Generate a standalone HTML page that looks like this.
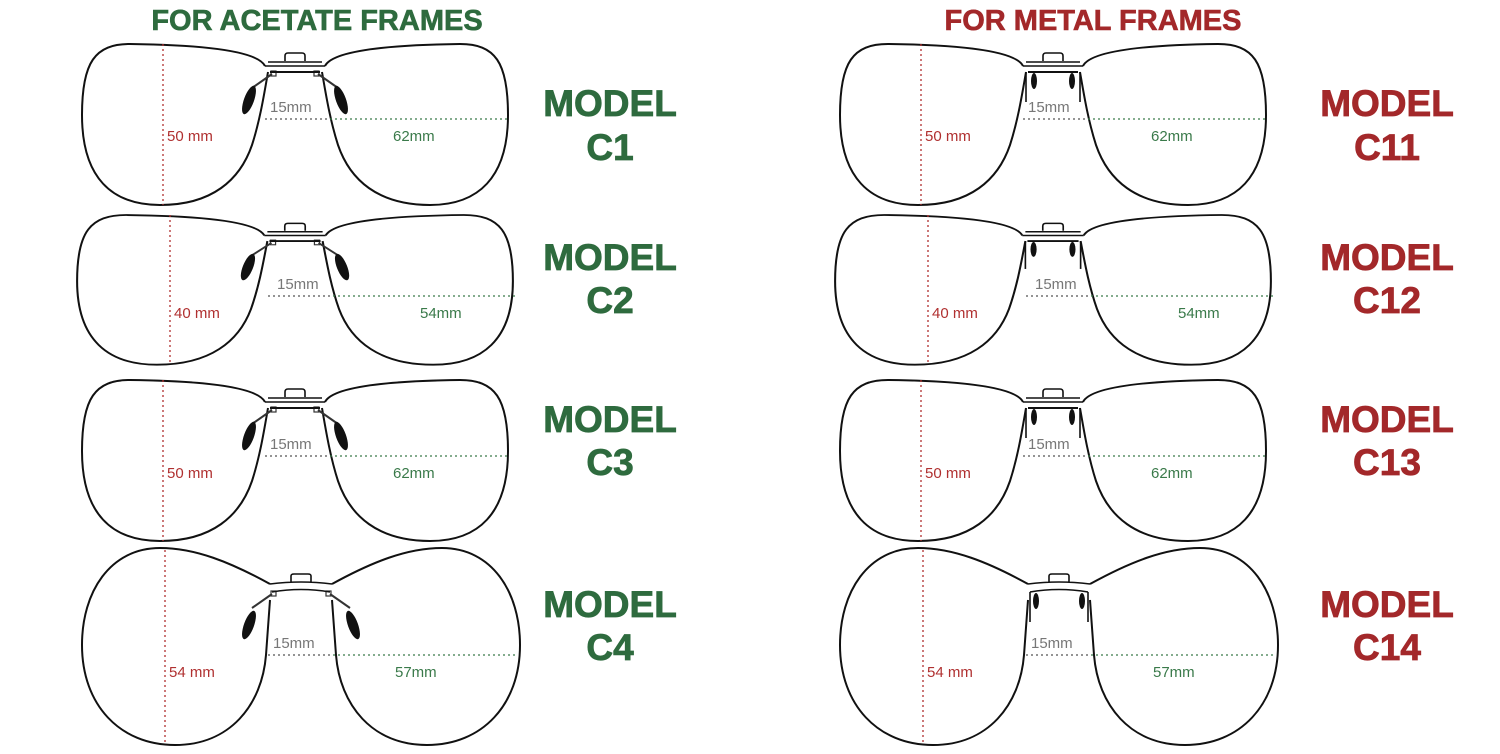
<!DOCTYPE html>
<html><head><meta charset="utf-8"><style>
html,body{margin:0;padding:0;background:#fff;}
svg{display:block;}
text{font-family:"Liberation Sans",sans-serif;}
</style></head><body>
<svg id="s" width="1500" height="754" viewBox="0 0 1500 754" xmlns="http://www.w3.org/2000/svg">
<g font-weight="bold" text-anchor="middle">
<text x="317" y="30" font-size="29" fill="#2e6b3e" stroke="#2e6b3e" stroke-width="0.6">FOR ACETATE FRAMES</text>
<text x="1093" y="30" font-size="29" fill="#a3282a" stroke="#a3282a" stroke-width="0.6">FOR METAL FRAMES</text>
<g font-size="37" fill="#2e6b3e" stroke="#2e6b3e" stroke-width="0.8">
<text x="610" y="116">MODEL</text><text x="610" y="160">C1</text>
<text x="610" y="270">MODEL</text><text x="610" y="313">C2</text>
<text x="610" y="432">MODEL</text><text x="610" y="475">C3</text>
<text x="610" y="617">MODEL</text><text x="610" y="660">C4</text>
</g>
<g font-size="37" fill="#a3282a" stroke="#a3282a" stroke-width="0.8">
<text x="1387" y="116">MODEL</text><text x="1387" y="160">C11</text>
<text x="1387" y="270">MODEL</text><text x="1387" y="313">C12</text>
<text x="1387" y="432">MODEL</text><text x="1387" y="475">C13</text>
<text x="1387" y="617">MODEL</text><text x="1387" y="660">C14</text>
</g>
</g>
<g id="glasses"></g>
</svg>
<script>
var g=document.getElementById('glasses');var h='';
var avL='M265 66 C258 52 210 45 130 44 C95 44 82 62 82 115 C82 178 112 205 160 205 C212 205 240 180 252 145 C260 120 264 95 268 72';
var rdL='M270 584 C230 562 195 548 160 548 C110 548 82 592 82 645 C82 705 120 745 175 745 C230 745 262 705 266 655 L270 600';
function half(path,metal,bar,padY,rd){
 var s='<path d="'+path+'" fill="none" stroke="#111" stroke-width="2"/>';
 if(!metal){
  s+='<line x1="272" y1="'+(bar+2)+'" x2="252" y2="'+(bar+16)+'" stroke="#333" stroke-width="2"/>';
  s+='<rect x="271" y="'+(bar-1)+'" width="5" height="5" fill="none" stroke="#333" stroke-width="1.2"/>';
  s+='<ellipse cx="249" cy="'+(padY)+'" rx="5" ry="15" transform="rotate(20 249 '+padY+')" fill="#111"/>';
 } else {
  s+='<line x1="'+(rd?272:268)+'" y1="'+bar+'" x2="'+(rd?272:268)+'" y2="'+(bar+30)+'" stroke="#111" stroke-width="1.6"/>';
  s+='<ellipse cx="'+(rd?278:276)+'" cy="'+(bar+9)+'" rx="3" ry="8" fill="#111"/>';
 }
 return s;
}
function glasses(dx,dy,sx,sy,round,metal){
 var s='<g transform="translate('+dx+','+dy+') ">';
 var inner;
 if(!round){
  inner='<g transform="translate('+(295*(1-sx))+','+(44*(1-sy))+') scale('+sx+','+sy+')">';
  var hf=half(avL,metal,72,100,false);
  inner+=hf+'<g transform="translate(590,0) scale(-1,1)">'+hf+'</g>';
  inner+='<path d="M265 66 L325 66 M268 62 L322 62 M285 61 L285 56 Q285 53 288 53 L302 53 Q305 53 305 56 L305 61" fill="none" stroke="#111" stroke-width="1.6"/>';
  inner+='<path d="M270 72 L320 72" stroke="#111" stroke-width="2"/>';
  inner+='</g>';
 } else {
  var hf=half(rdL,metal,592,625,true);
  inner=hf+'<g transform="translate(602,0) scale(-1,1)">'+hf+'</g>';
  inner+='<path d="M270 584 Q301 580 332 584 M272 592 Q301 587 330 592 M291 582 L291 576 Q291 574 294 574 L308 574 Q311 574 311 576 L311 582" fill="none" stroke="#111" stroke-width="1.6"/>';
 }
 s+=inner+'</g>';
 return s;
}
function labels(dx,o){
 var s='<g transform="translate('+dx+',0)">';
 s+='<line x1="'+o.rx+'" y1="'+o.ry1+'" x2="'+o.rx+'" y2="'+o.ry2+'" stroke="#b03030" stroke-width="1.3" stroke-dasharray="2,3"/>';
 s+='<line x1="'+o.gx1+'" y1="'+o.ly+'" x2="'+(o.gx1+65)+'" y2="'+o.ly+'" stroke="#555" stroke-width="1.3" stroke-dasharray="2,3"/>';
 s+='<line x1="'+(o.gx1+65)+'" y1="'+o.ly+'" x2="'+o.gx2+'" y2="'+o.ly+'" stroke="#3a7a4a" stroke-width="1.3" stroke-dasharray="2,3"/>';
 s+='<text x="'+o.bx+'" y="'+(o.ly-7)+'" font-size="15" fill="#777">15mm</text>';
 s+='<text x="'+o.wx+'" y="'+(o.ly+22)+'" font-size="15" fill="#3a7a4a">'+o.w+'</text>';
 s+='<text x="'+(o.rx+4)+'" y="'+(o.ly+22)+'" font-size="15" fill="#b03030">'+o.hh+'</text>';
 return s+'</g>';
}
var rows=[
 {dy:0,sx:1,sy:1,round:false,lab:{rx:163,ry1:44,ry2:205,gx1:265,gx2:508,ly:119,bx:270,wx:393,w:'62mm',hh:'50 mm'}},
 {dy:171,sx:1.023,sy:0.93,round:false,lab:{rx:170,ry1:215,ry2:365,gx1:268,gx2:518,ly:296,bx:277,wx:420,w:'54mm',hh:'40 mm'}},
 {dy:336,sx:1,sy:1,round:false,lab:{rx:163,ry1:380,ry2:541,gx1:265,gx2:508,ly:456,bx:270,wx:393,w:'62mm',hh:'50 mm'}},
 {dy:0,sx:1,sy:1,round:true,lab:{rx:165,ry1:550,ry2:744,gx1:268,gx2:518,ly:655,bx:273,wx:395,w:'57mm',hh:'54 mm'}}
];
rows.forEach(function(r){
 [0,758].forEach(function(dx){
  h+=glasses(dx,r.dy,r.sx,r.sy,r.round,dx>0);
  h+=labels(dx,r.lab);
 });
});
g.innerHTML=h;
</script>
</body></html>
